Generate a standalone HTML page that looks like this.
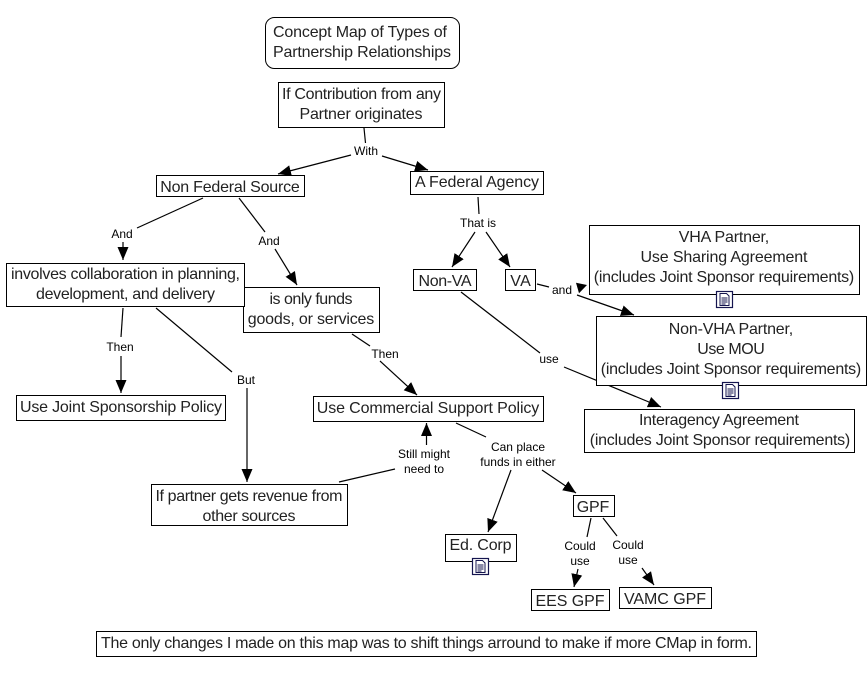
<!DOCTYPE html>
<html><head><meta charset="utf-8"><style>
html,body{margin:0;padding:0;background:#fff;width:868px;height:676px;overflow:hidden}
svg{display:block}
text{font-family:"Liberation Sans",Arial,sans-serif;fill:#222;text-anchor:middle}
.n{font-size:16px}
.l{font-size:12px}
.l text{fill:#000}
.c line{stroke:#000;stroke-width:1.2}
rect.b{fill:#fff;stroke:#000;stroke-width:1}
</style></head><body>
<svg width="868" height="676" viewBox="0 0 868 676" xmlns="http://www.w3.org/2000/svg">
<defs>
<marker id="h" markerUnits="userSpaceOnUse" markerWidth="14" markerHeight="12" refX="13" refY="6" orient="auto"><path d="M0 0.5L13 6L0 11.5Z" fill="#000"/></marker>
<g id="doc"><rect x="0.5" y="0.5" width="16" height="16" fill="#fff" stroke="#15154f" stroke-width="1.2"/><path d="M4 2.5h6.5l2.5 2.5v9.5H4Z" fill="#fff" stroke="#15154f"/><path d="M5.5 7h6M5.5 9h6M5.5 11h6M5.5 13h4" stroke="#15154f" stroke-width=".9"/></g>
</defs>
<g class="c">
<line x1="364" y1="128" x2="365.5" y2="143"/>
<line x1="382" y1="156" x2="428" y2="170" marker-end="url(#h)"/>
<line x1="351" y1="155" x2="278" y2="174" marker-end="url(#h)"/>
<line x1="203" y1="198" x2="137" y2="228"/>
<line x1="123" y1="242" x2="123" y2="260" marker-end="url(#h)"/>
<line x1="239" y1="198" x2="265" y2="232"/>
<line x1="275" y1="249" x2="297" y2="285" marker-end="url(#h)"/>
<line x1="478" y1="197" x2="479" y2="214"/>
<line x1="475" y1="232" x2="452" y2="267" marker-end="url(#h)"/>
<line x1="486" y1="232" x2="510" y2="267" marker-end="url(#h)"/>
<line x1="537" y1="284" x2="549" y2="287"/>
<line x1="577" y1="295" x2="634" y2="315" marker-end="url(#h)"/>
<line x1="461" y1="292" x2="540" y2="353"/>
<line x1="564" y1="367" x2="661" y2="407" marker-end="url(#h)"/>
<line x1="123" y1="308" x2="121" y2="337"/>
<line x1="121" y1="356" x2="121" y2="393" marker-end="url(#h)"/>
<line x1="156" y1="308" x2="232" y2="372"/>
<line x1="247" y1="388" x2="247" y2="482" marker-end="url(#h)"/>
<line x1="352" y1="334" x2="370" y2="346"/>
<line x1="380" y1="361" x2="417" y2="395" marker-end="url(#h)"/>
<line x1="339" y1="482" x2="395" y2="469"/>
<line x1="426.5" y1="445" x2="426.5" y2="423" marker-end="url(#h)"/>
<line x1="456" y1="423" x2="486" y2="437"/>
<line x1="511" y1="470" x2="488" y2="532" marker-end="url(#h)"/>
<line x1="542" y1="470" x2="576" y2="493" marker-end="url(#h)"/>
<line x1="591" y1="518" x2="587" y2="537"/>
<line x1="578" y1="569" x2="574" y2="587" marker-end="url(#h)"/>
<line x1="603" y1="518" x2="617" y2="536"/>
<line x1="642" y1="568" x2="654" y2="585" marker-end="url(#h)"/>
</g>
<polygon points="576,282.7 587,285 579,293.3" fill="#000"/>
<rect class="b" x="265.5" y="17.5" width="194" height="51" rx="9"/>
<rect class="b" x="278.5" y="82.5" width="166" height="45"/>
<rect class="b" x="156.5" y="175.5" width="148" height="21"/>
<rect class="b" x="410.5" y="171.5" width="133" height="23"/>
<rect class="b" x="243.5" y="287.5" width="136" height="45"/>
<rect class="b" x="6.5" y="263.5" width="238" height="43"/>
<rect class="b" x="413.5" y="269.5" width="63" height="21"/>
<rect class="b" x="505.5" y="269.5" width="30" height="21"/>
<rect class="b" x="589.5" y="225.5" width="270" height="69"/>
<rect class="b" x="596.5" y="316.5" width="270" height="69"/>
<rect class="b" x="584.5" y="409.5" width="270" height="43"/>
<rect class="b" x="16.5" y="395.5" width="209" height="25"/>
<rect class="b" x="313.5" y="396.5" width="230" height="25"/>
<rect class="b" x="151.5" y="484.5" width="196" height="41"/>
<rect class="b" x="445.5" y="534.5" width="71" height="27"/>
<rect class="b" x="573.5" y="495.5" width="41" height="21"/>
<rect class="b" x="531.5" y="589.5" width="78" height="21"/>
<rect class="b" x="619.5" y="587.5" width="92" height="21"/>
<rect class="b" x="96.5" y="631.5" width="660" height="25"/>
<use href="#doc" x="716" y="291"/>
<use href="#doc" x="722" y="382"/>
<use href="#doc" x="472" y="558"/>
<g class="n">
<text x="360" y="37" textLength="174">Concept Map of Types of</text>
<text x="362" y="57" textLength="178">Partnership Relationships</text>
<text x="361.5" y="99" textLength="159">If Contribution from any</text>
<text x="361" y="119" textLength="123">Partner originates</text>
<text x="230" y="192" textLength="139.5">Non Federal Source</text>
<text x="477" y="187" textLength="124">A Federal Agency</text>
<text x="125.5" y="279" textLength="229">involves collaboration in planning,</text>
<text x="125.5" y="299" textLength="179">development, and delivery</text>
<text x="311" y="304" textLength="83">is only funds</text>
<text x="311" y="324" textLength="126.5">goods, or services</text>
<text x="445" y="286" textLength="53">Non-VA</text>
<text x="520.5" y="286" textLength="20.5">VA</text>
<text x="724" y="242" textLength="90.5">VHA Partner,</text>
<text x="724" y="262" textLength="167">Use Sharing Agreement</text>
<text x="724" y="282" textLength="260.5">(includes Joint Sponsor requirements)</text>
<text x="731" y="334" textLength="124.5">Non-VHA Partner,</text>
<text x="731" y="354" textLength="67.5">Use MOU</text>
<text x="731" y="374" textLength="260.5">(includes Joint Sponsor requirements)</text>
<text x="719" y="425" textLength="160">Interagency Agreement</text>
<text x="720" y="445" textLength="260.5">(includes Joint Sponsor requirements)</text>
<text x="121" y="412" textLength="202">Use Joint Sponsorship Policy</text>
<text x="428" y="413" textLength="222.5">Use Commercial Support Policy</text>
<text x="249" y="501" textLength="187">If partner gets revenue from</text>
<text x="249" y="521" textLength="93">other sources</text>
<text x="480.5" y="550" textLength="62">Ed. Corp</text>
<text x="593" y="512" textLength="32.5">GPF</text>
<text x="570" y="606" textLength="69">EES GPF</text>
<text x="665" y="604" textLength="82">VAMC GPF</text>
<text x="426.5" y="648" textLength="651">The only changes I made on this map was to shift things arround to make if more CMap in form.</text>
</g>
<g class="l">
<text x="366" y="155">With</text>
<text x="122" y="238">And</text>
<text x="269" y="245">And</text>
<text x="478" y="227">That is</text>
<text x="562" y="294">and</text>
<text x="549" y="363">use</text>
<text x="120" y="351">Then</text>
<text x="246" y="384">But</text>
<text x="385" y="358">Then</text>
<text x="424" y="458">Still might</text>
<text x="424" y="473">need to</text>
<text x="518" y="451">Can place</text>
<text x="518" y="466">funds in either</text>
<text x="580" y="550">Could</text>
<text x="580" y="565">use</text>
<text x="628" y="549">Could</text>
<text x="628" y="564">use</text>
</g>
</svg>
</body></html>
